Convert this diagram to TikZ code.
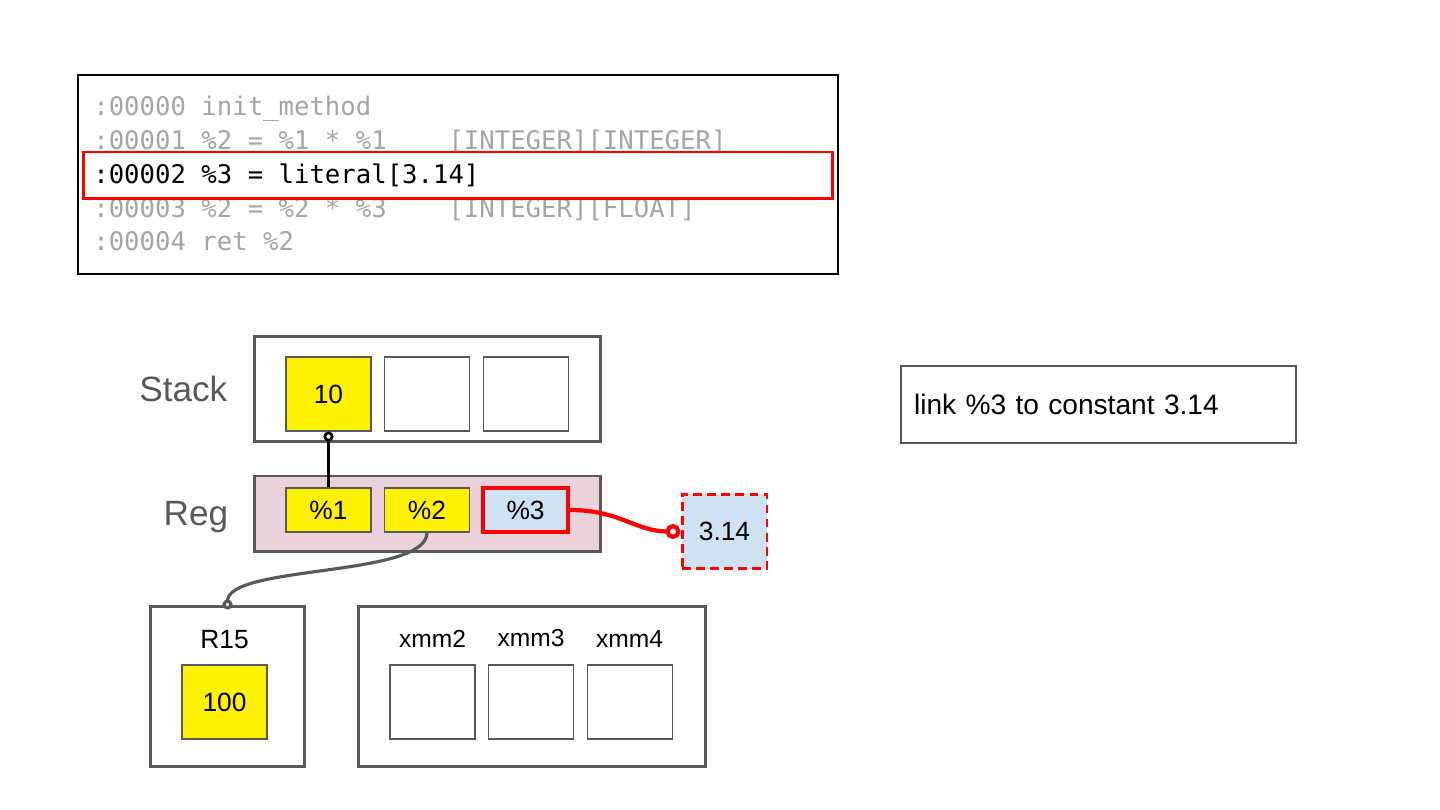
\documentclass[tikz,border=0pt]{standalone}
\usepackage{fontspec}
\setmainfont{Liberation Sans}
\setmonofont{DejaVu Sans Mono}
\usepackage{xcolor}
\usetikzlibrary{arrows.meta,positioning}

\definecolor{framegray}{HTML}{595959}
\definecolor{codegray}{HTML}{A5A5A5}
\definecolor{regpink}{HTML}{EAD1DC}
\definecolor{constblue}{HTML}{CFE2F3}

\begin{document}
\begin{tikzpicture}[
  x=0.02cm, y=-0.02cm,
  every node/.style={font=\fontsize{15}{18}\selectfont},
  frame/.style={draw=framegray, line width=1.7pt, inner sep=0pt},
  cell/.style={draw=framegray, line width=0.6pt, inner sep=0pt,
               minimum width=1.7cm, minimum height=1.48cm},
  valcell/.style={cell, fill=yellow},
  regcell/.style={cell, fill=yellow, minimum height=0.88cm},
  codeline/.style={anchor=base west, inner sep=0pt, text=codegray,
                   font=\ttfamily\fontsize{14.6}{17}\selectfont},
  lbl/.style={inner sep=0pt, text=framegray, font=\fontsize{20}{24}\selectfont},
  xlbl/.style={inner sep=0pt, font=\fontsize{14}{17}\selectfont},
  link/.style={line width=1.5pt}
]
\useasboundingbox (0,0) rectangle (1440,810);

% code listing
\node[draw, line width=0.85pt, minimum width=15.2cm, minimum height=3.98cm,
      inner sep=0pt] (code) at (458,174.5) {};
\node[codeline] (c0) at (93,116) {:00000 init\_method};
\node[codeline] (c1) at (93,150) {:00001 \%2 = \%1 * \%1\ \ \ \ [INTEGER][INTEGER]};
\node[codeline, text=black] (c2) at (93,184) {:00002 \%3 = literal[3.14]};
\node[codeline] (c3) at (93,218) {:00003 \%2 = \%2 * \%3\ \ \ \ [INTEGER][FLOAT]};
\node[codeline] (c4) at (93,251) {:00004 ret \%2};
\node[draw=red, line width=1.7pt, minimum width=15cm, minimum height=0.94cm,
      inner sep=0pt] (hilite) at (458,175.5) {};

% stack
\node[frame, minimum width=6.94cm, minimum height=2.12cm] (stack) at (427.5,389) {};
\node[lbl, left=0.5cm of stack] (stacklbl) {Stack};
\node[valcell] (s1) at (328.5,394) {10};
\node[cell, right=0.25cm of s1] (s2) {};
\node[cell, right=0.25cm of s2] (s3) {};

% registers
\node[frame, fill=regpink, minimum width=6.94cm, minimum height=1.52cm] (reg) at (427.5,514) {};
\node[lbl, left=0.48cm of reg, yshift=-0.07cm] (reglbl) {Reg};
\node[regcell] (r1) at (328.5,510) {\%1};
\node[regcell, right=0.25cm of r1] (r2) {\%2};
\node[regcell, fill=constblue, draw=red, line width=2.3pt, right=0.22cm of r2] (r3) {\%3};

% constant
\node[cell, fill=constblue, draw=red, line width=1.7pt, dash pattern=on 5pt off 3pt,
      minimum height=1.5cm] (const) at (724.5,531.5) {3.14};

% R15
\node[frame, minimum width=3.1cm, minimum height=3.22cm] (r15) at (227.5,686.5) {};
\node[valcell] (v100) at (224.5,702) {100};
\node[xlbl, font=\fontsize{15}{18}\selectfont, above=0.3cm of v100] (r15lbl) {R15};

% xmm
\node[frame, minimum width=6.96cm, minimum height=3.22cm] (xmm) at (532,686.5) {};
\node[cell] (x1) at (432.5,702) {};
\node[cell, right=0.25cm of x1] (x2) {};
\node[cell, right=0.25cm of x2] (x3) {};
\node[xlbl, above=0.34cm of x1] (x1lbl) {xmm2};
\node[xlbl, above=0.34cm of x2] (x2lbl) {xmm3};
\node[xlbl, above=0.34cm of x3] (x3lbl) {xmm4};

% note
\node[draw=framegray, line width=0.7pt, text width=7.38cm, inner xsep=0.26cm,
      minimum height=1.54cm, align=left, font=\fontsize{16}{19}\selectfont]
      (note) at (1098.5,404.5) {link \%3 to constant 3.14};

% links
\draw[link, {Circle[length=0.2cm, fill=white]}-] (s1.south) -- (r1.north);
\draw[link, framegray, line width=1.8pt, -{Circle[length=0.2cm, fill=white]}]
  (r2.south) .. controls +(0,45) and +(0,-45) .. ([yshift=-0.1cm]r15.north);
\draw[red, line width=2.4pt, -{Circle[length=0.3cm, fill=white]}]
  (r3.east) .. controls +(50,0) and +(-45,0) .. (const.west);
\end{tikzpicture}
\end{document}
